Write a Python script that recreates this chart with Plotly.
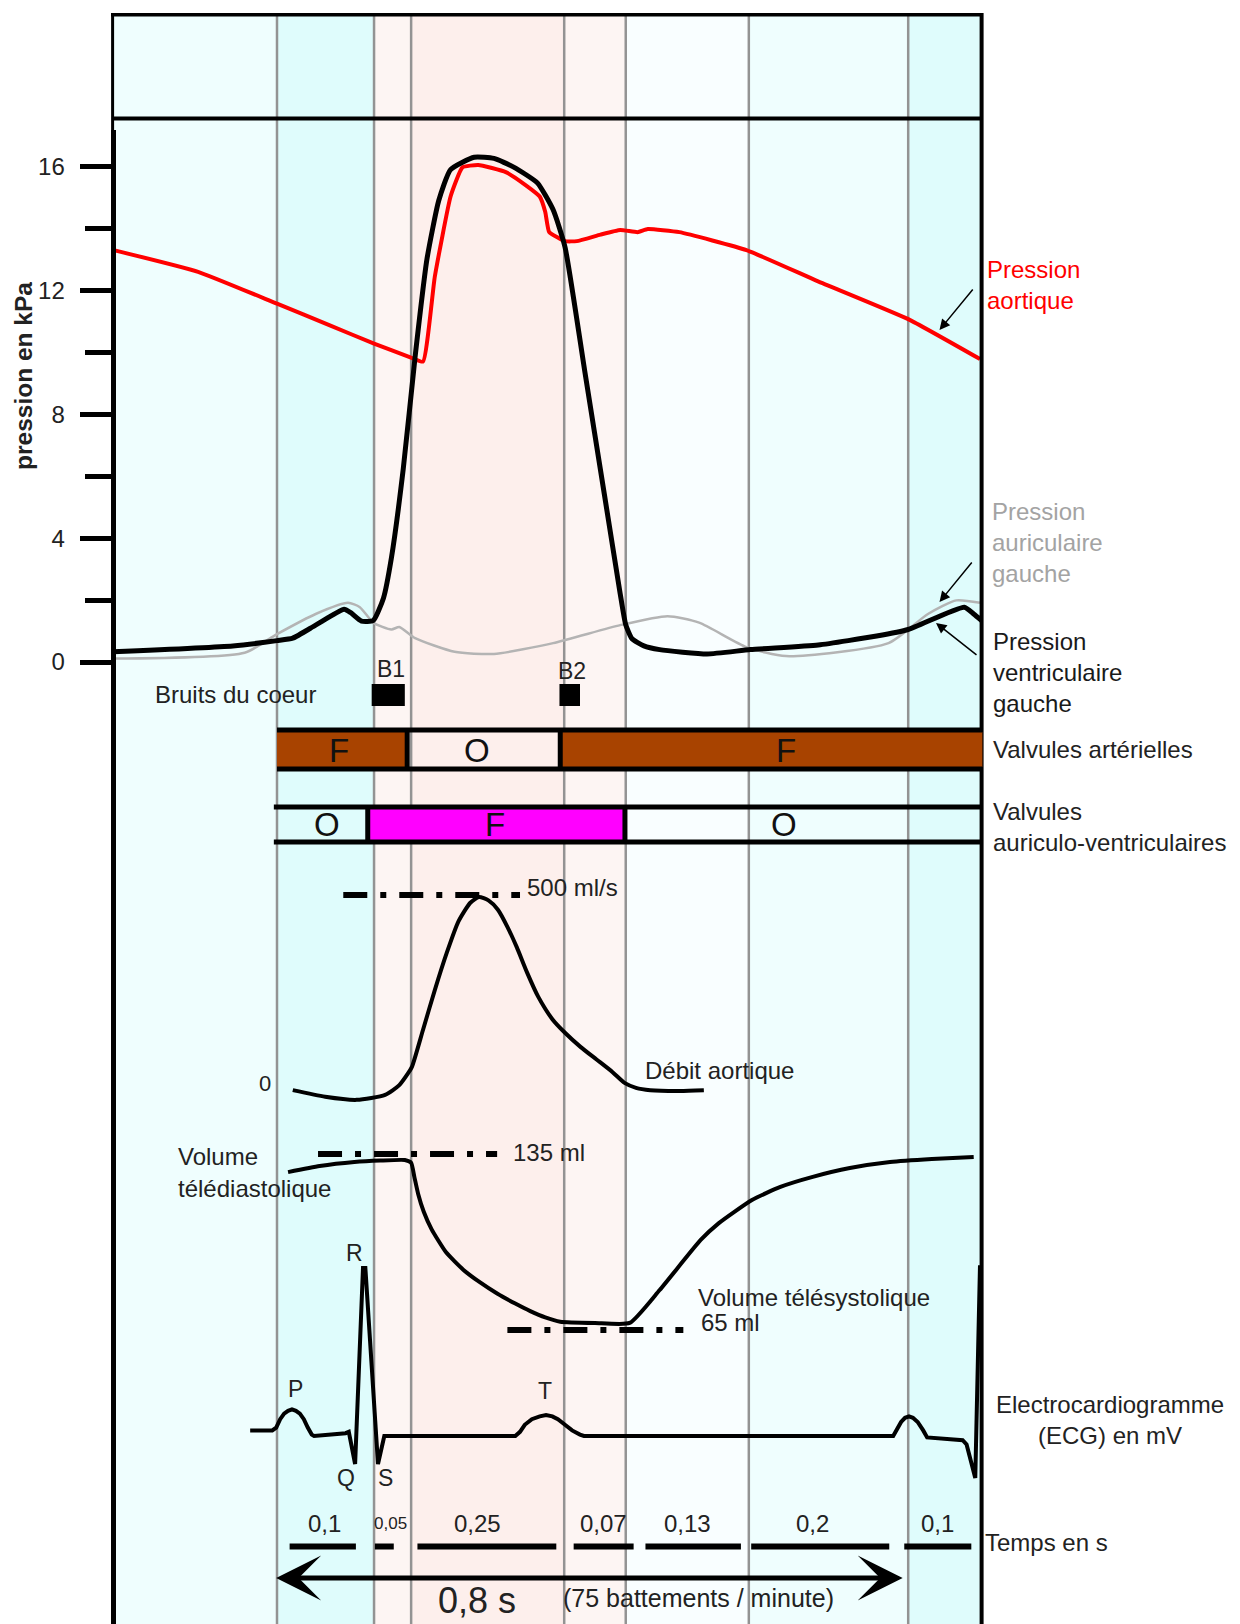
import plotly.graph_objects as go

W, H = 1240, 1624

# ---------------- data (time in s) ----------------
phase_edges = [-0.209, 0.0, 0.123, 0.170, 0.364, 0.442, 0.598, 0.800, 0.894]
phase_colors = ['#effefe', '#dffcfc', '#fdf5f3', '#fdefec', '#fdf5f3', '#f9feff', '#effefe', '#dffcfc']

# pressures (kPa)
t_aortic = [-0.207, -0.100, 0.000, 0.067, 0.123, 0.169, 0.185, 0.200, 0.220, 0.235, 0.255, 0.290, 0.315,
            0.333, 0.340, 0.345, 0.365, 0.380, 0.410, 0.435, 0.457, 0.470, 0.510, 0.595, 0.685, 0.800, 0.891]
p_aortic = [13.30, 12.60, 11.57, 10.87, 10.28, 9.84, 9.70, 12.44, 15.03, 15.97, 16.05, 15.82, 15.40,
            15.03, 14.53, 13.88, 13.59, 13.59, 13.80, 13.95, 13.88, 13.98, 13.88, 13.30, 12.30, 11.07, 9.78]

t_lv = [-0.208, -0.056, 0.000, 0.020, 0.049, 0.085, 0.093, 0.107, 0.122, 0.135, 0.145, 0.160, 0.175, 0.190,
        0.205, 0.220, 0.250, 0.275, 0.300, 0.330, 0.350, 0.365, 0.390, 0.415, 0.435, 0.442, 0.450, 0.465,
        0.485, 0.545, 0.600, 0.686, 0.760, 0.800, 0.871, 0.883, 0.893]
p_lv = [0.33, 0.52, 0.69, 0.77, 1.19, 1.70, 1.60, 1.32, 1.34, 2.07, 3.36, 6.23, 9.85, 13.00,
        14.90, 15.90, 16.30, 16.26, 15.98, 15.47, 14.60, 13.40, 9.40, 5.40, 2.20, 1.20, 0.75, 0.52,
        0.40, 0.26, 0.40, 0.55, 0.84, 1.05, 1.77, 1.55, 1.34]

t_la = [-0.208, -0.041, 0.000, 0.049, 0.090, 0.105, 0.122, 0.145, 0.155, 0.175, 0.225, 0.275, 0.350,
        0.435, 0.495, 0.535, 0.595, 0.645, 0.775, 0.825, 0.861, 0.891]
p_la = [0.11, 0.30, 0.90, 1.55, 1.91, 1.77, 1.27, 1.05, 1.13, 0.77, 0.33, 0.26, 0.61,
        1.19, 1.48, 1.27, 0.48, 0.19, 0.61, 1.55, 1.99, 1.91]

pressure_major = [0, 4, 8, 12, 16]
pressure_minor = [2, 6, 10, 14]

# heart sounds
hs_names = ['B1', 'B2']
hs_start = [0.120, 0.358]
hs_end = [0.162, 0.384]

# valves
art_edges = [0.0, 0.165, 0.359, 0.894]
art_state = ['F', 'O', 'F']
art_label_t = [0.078, 0.254, 0.645]
av_edges = [-0.004, 0.115, 0.441, 0.894]
av_state = ['O', 'F', 'O']
av_label_t = [0.063, 0.276, 0.643]

# aortic flow (ml/s)
t_flow = [0.020, 0.061, 0.101, 0.137, 0.155, 0.166, 0.171, 0.185, 0.200, 0.215, 0.230, 0.245, 0.256,
          0.268, 0.280, 0.292, 0.304, 0.317, 0.331, 0.349, 0.365, 0.385, 0.405, 0.425, 0.441, 0.455,
          0.473, 0.511, 0.541]
q_flow = [-3, -20, -28, -15, 10, 40, 57, 152, 255, 350, 432, 480, 495,
          486, 462, 418, 365, 300, 238, 180, 145, 108, 76, 44, 15, 3,
          -3, -5, -3]
flow_max = 500
flow_max_t = [0.084, 0.308]

# ventricular volume (ml)
t_vol = [0.014, 0.054, 0.098, 0.131, 0.162, 0.170, 0.174, 0.179, 0.186, 0.196, 0.214, 0.236, 0.257, 0.279,
         0.302, 0.321, 0.340, 0.359, 0.403, 0.447, 0.485, 0.537, 0.560, 0.602, 0.638, 0.679, 0.726, 0.777,
         0.830, 0.883]
v_vol = [127.8, 130.2, 131.8, 132.4, 132.6, 131.5, 126.0, 119.0, 112.0, 105.0, 96.0, 89.0, 84.0, 79.5,
         75.5, 72.5, 70.0, 68.3, 67.8, 67.8, 80.9, 100.8, 107.5, 116.7, 121.9, 125.9, 129.4, 131.8,
         133.0, 133.8]
edv = 135
edv_t = [0.052, 0.279]
esv = 65
esv_t = [0.292, 0.515]

# ECG (mV)
t_ecg = [-0.034, -0.006, -0.001, 0.004, 0.009, 0.014, 0.019, 0.024, 0.029, 0.034, 0.039, 0.044, 0.047,
         0.067, 0.087, 0.091, 0.099, 0.109, 0.112, 0.128, 0.136, 0.302, 0.308, 0.314, 0.323, 0.333,
         0.341, 0.349, 0.356, 0.365, 0.374, 0.384, 0.389, 0.781, 0.786, 0.791, 0.796, 0.801, 0.806,
         0.812, 0.819, 0.824, 0.869, 0.874, 0.885, 0.891]
e_ecg = [0.04, 0.04, 0.06, 0.12, 0.16, 0.18, 0.19, 0.18, 0.16, 0.12, 0.06, 0.01, 0.0,
         0.01, 0.02, 0.03, -0.20, 1.20, 1.20, -0.20, 0.0, 0.0, 0.03, 0.08, 0.12, 0.14,
         0.15, 0.14, 0.12, 0.08, 0.04, 0.01, 0.0, 0.0, 0.05, 0.10, 0.13, 0.14, 0.13,
         0.10, 0.04, -0.01, -0.03, -0.06, -0.30, 1.22]
ecg_waves = ['P', 'Q', 'R', 'S', 'T']
ecg_wave_t = [0.023, 0.087, 0.098, 0.137, 0.340]
ecg_wave_py = [1389, 1478, 1253, 1478, 1391]

# durations
seg_labels = ['0,1', '0,05', '0,25', '0,07', '0,13', '0,2', '0,1']
seg_start = [0.016, 0.124, 0.178, 0.376, 0.467, 0.601, 0.795]
seg_end = [0.100, 0.148, 0.354, 0.452, 0.588, 0.776, 0.880]
seg_label_t = [0.060, 0.144, 0.254, 0.414, 0.520, 0.679, 0.837]
cycle_t = [-0.003, 0.793]

# ---------------- helpers for layout positions ----------------
def PX(x):
    return x / W

def PY(y):
    return 1 - y / H

FONT = 'Liberation Sans, Arial, sans-serif'
TXT = '#222222'
DOM_TOP = PY(129.5)

fig = go.Figure()

# ---------------- traces ----------------
fig.add_trace(go.Scatter(x=t_la, y=p_la, mode='lines', yaxis='y',
                         line=dict(color='#b4b4b4', width=2.5, shape='spline', smoothing=0.6)))
fig.add_trace(go.Scatter(x=t_aortic, y=p_aortic, mode='lines', yaxis='y',
                         line=dict(color='#ff0000', width=4, shape='spline', smoothing=0.4)))
fig.add_trace(go.Scatter(x=t_lv, y=p_lv, mode='lines', yaxis='y',
                         line=dict(color='black', width=5, shape='spline', smoothing=0.5)))

fig.add_trace(go.Scatter(x=flow_max_t, y=[flow_max, flow_max], mode='lines', yaxis='y2',
                         line=dict(color='black', width=6, dash='24px,13px,6px,13px')))
fig.add_trace(go.Scatter(x=t_flow, y=q_flow, mode='lines', yaxis='y2',
                         line=dict(color='black', width=4, shape='spline', smoothing=0.6)))

fig.add_trace(go.Scatter(x=edv_t, y=[edv, edv], mode='lines', yaxis='y3',
                         line=dict(color='black', width=6, dash='24px,13px,6px,13px')))
fig.add_trace(go.Scatter(x=esv_t, y=[esv, esv], mode='lines', yaxis='y3',
                         line=dict(color='black', width=6, dash='24px,13px,6px,13px')))
fig.add_trace(go.Scatter(x=t_vol, y=v_vol, mode='lines', yaxis='y3',
                         line=dict(color='black', width=4, shape='spline', smoothing=0.5)))

fig.add_trace(go.Scatter(x=t_ecg, y=e_ecg, mode='lines', yaxis='y4',
                         line=dict(color='black', width=4)))

# ---------------- shapes ----------------
shapes = []
for i, c in enumerate(phase_colors):
    shapes.append(dict(type='rect', xref='x', yref='paper', x0=phase_edges[i], x1=phase_edges[i + 1],
                       y0=0, y1=PY(14.7), fillcolor=c, line=dict(width=0), layer='below'))
for e in phase_edges[1:-1]:
    shapes.append(dict(type='line', xref='x', yref='paper', x0=e, x1=e, y0=0, y1=PY(14.7),
                       line=dict(color='#939393', width=2.5), layer='below'))

# frame
shapes += [
    dict(type='line', xref='paper', yref='paper', x0=PX(111), x1=PX(983), y0=PY(14.7), y1=PY(14.7),
         line=dict(color='black', width=3.5)),
    dict(type='line', xref='paper', yref='paper', x0=PX(112.6), x1=PX(112.6), y0=PY(14.7), y1=PY(131),
         line=dict(color='black', width=3)),
    dict(type='line', xref='paper', yref='paper', x0=PX(981.6), x1=PX(981.6), y0=PY(13), y1=0,
         line=dict(color='black', width=4)),
    dict(type='line', xref='paper', yref='paper', x0=PX(112.6), x1=PX(981.6), y0=PY(118.5), y1=PY(118.5),
         line=dict(color='black', width=4)),
]

# heart sounds
for s, e in zip(hs_start, hs_end):
    shapes.append(dict(type='rect', xref='x', yref='paper', x0=s, x1=e, y0=PY(706), y1=PY(684),
                       fillcolor='black', line=dict(width=0)))

# arterial valves
for i, st in enumerate(art_state):
    if st == 'F':
        shapes.append(dict(type='rect', xref='x', yref='paper', x0=art_edges[i], x1=art_edges[i + 1],
                           y0=PY(767), y1=PY(732), fillcolor='#a84300', line=dict(width=0)))
for yy in (730, 769):
    shapes.append(dict(type='line', xref='x', yref='paper', x0=art_edges[0], x1=art_edges[-1],
                       y0=PY(yy), y1=PY(yy), line=dict(color='black', width=5)))
for e in art_edges[1:-1]:
    shapes.append(dict(type='line', xref='x', yref='paper', x0=e, x1=e, y0=PY(730), y1=PY(769),
                       line=dict(color='black', width=5)))

# atrio-ventricular valves
for i, st in enumerate(av_state):
    if st == 'F':
        shapes.append(dict(type='rect', xref='x', yref='paper', x0=av_edges[i], x1=av_edges[i + 1],
                           y0=PY(841), y1=PY(808), fillcolor='#ff00ff', line=dict(width=0)))
for yy in (807, 842):
    shapes.append(dict(type='line', xref='x', yref='paper', x0=av_edges[0], x1=av_edges[-1],
                       y0=PY(yy), y1=PY(yy), line=dict(color='black', width=5)))
for e in av_edges[1:-1]:
    shapes.append(dict(type='line', xref='x', yref='paper', x0=e, x1=e, y0=PY(807), y1=PY(842),
                       line=dict(color='black', width=5)))

# duration segments
for s, e in zip(seg_start, seg_end):
    shapes.append(dict(type='line', xref='x', yref='paper', x0=s, x1=e, y0=PY(1546.5), y1=PY(1546.5),
                       line=dict(color='black', width=6)))

# ---------------- annotations ----------------
ann = []

def txt(text, x, y, size=24, color=TXT, xanchor='left', align='left', xref='paper', **kw):
    ann.append(dict(text=text, x=x if xref == 'x' else PX(x), y=PY(y), xref=xref, yref='paper',
                    xanchor=xanchor, yanchor='middle', align=align, showarrow=False,
                    font=dict(family=FONT, size=size, color=color), **kw))

txt('Pression<br>aortique', 985, 285, color='#ff0000')
txt('Pression<br>auriculaire<br>gauche', 990, 542, color='#a3a3a3')
txt('Pression<br>ventriculaire<br>gauche', 991, 673, color='#1a1a1a')
txt('Valvules artérielles', 991, 749)
txt('Valvules<br>auriculo-ventriculaires', 991, 827)
txt('Electrocardiogramme<br>(ECG) en mV', 1110, 1420, xanchor='center', align='center')
txt('Temps en s', 983, 1542)
txt('Bruits du coeur', 235, 694, xanchor='center')
for n, s, e, yy in zip(hs_names, hs_start, hs_end, [669, 671]):
    txt(n, (s + e) / 2 + 0.003, yy, size=23, xanchor='center', xref='x')
txt('0', 265, 1083, size=22, xanchor='center')
txt('500 ml/s', 525, 887)
txt('Débit aortique', 643, 1070)
txt('Volume', 176, 1156)
txt('télédiastolique', 176, 1188)
txt('135 ml', 511, 1152)
txt('Volume télésystolique', 696, 1297)
txt('65 ml', 699, 1322)

for lab, t in zip(art_state, art_label_t):
    txt(lab, t, 750, size=33, color='#111111', xanchor='center', xref='x')
for lab, t in zip(av_state, av_label_t):
    txt(lab, t, 825, size=33, color='#111111', xanchor='center', xref='x')

for lab, t, yy in zip(ecg_waves, ecg_wave_t, ecg_wave_py):
    txt(lab, t, yy, size=23, xanchor='center', xref='x')

for lab, t in zip(seg_labels, seg_label_t):
    txt(lab, t, 1523, size=17 if lab == '0,05' else 24, xanchor='center', xref='x')

txt('0,8 s', 477, 1600, size=36, xanchor='center')
txt('(75 battements / minute)', 698, 1598, size=25, xanchor='center')

ann.append(dict(text='<b>pression en kPa</b>', x=PX(23), y=PY(376), xref='paper', yref='paper',
                textangle=-90, showarrow=False, xanchor='center', yanchor='middle',
                font=dict(family=FONT, size=24.5, color=TXT)))

# cycle double arrow
ann.append(dict(text='', x=cycle_t[1], y=PY(1578), xref='x', yref='paper',
                ax=cycle_t[0], ay=0, axref='x', ayref='pixel', showarrow=True,
                arrowside='end+start', arrowhead=3, arrowsize=1.5, arrowwidth=5, arrowcolor='black'))

# pointer arrows to curves
for tip, tail in [((939.5, 330), (974, 288)), ((939.5, 602), (973, 561)), ((936, 623), (978, 656))]:
    ann.append(dict(text='', x=PX(tip[0]), y=PY(tip[1]), xref='paper', yref='paper',
                    ax=tail[0] - tip[0], ay=tail[1] - tip[1], showarrow=True,
                    arrowhead=2, arrowsize=1.4, arrowwidth=1.5, arrowcolor='black'))

# ---------------- layout ----------------
def yrange(px_ref, v_ref, px_per_unit):
    lo = v_ref - (H - px_ref) / px_per_unit
    hi = lo + (H - 129.5) / px_per_unit
    return [lo, hi]

fig.update_layout(
    width=W, height=H, margin=dict(l=0, r=0, t=0, b=0),
    paper_bgcolor='white', plot_bgcolor='rgba(0,0,0,0)', showlegend=False,
    xaxis=dict(domain=[0, 1], range=[-277 / 789, (W - 277) / 789], visible=False, fixedrange=True),
    yaxis=dict(domain=[0, DOM_TOP], range=yrange(662, 0, 30.97), anchor='free', position=PX(112.6),
               showline=True, linewidth=5, linecolor='black', showgrid=False, zeroline=False,
               ticks='outside', ticklen=31, tickwidth=5, tickcolor='black',
               tickmode='array', tickvals=pressure_major, ticktext=[str(v) for v in pressure_major],
               ticklabelstandoff=10,
               tickfont=dict(family=FONT, size=24, color=TXT),
               minor=dict(ticks='outside', tickmode='array', tickvals=pressure_minor, ticklen=26,
                          tickwidth=5, tickcolor='black'),
               fixedrange=True),
    yaxis2=dict(overlaying='y', anchor='x', range=yrange(1089, 0, 0.388), visible=False),
    yaxis3=dict(overlaying='y', anchor='x', range=yrange(1154, 135, 2.514), visible=False),
    yaxis4=dict(overlaying='y', anchor='x', range=yrange(1436, 0, 140.0), visible=False),
    shapes=shapes,
    annotations=ann,
)

fig.write_html('out.html', config={'displayModeBar': False, 'staticPlot': True},
               post_script="document.body.style.margin='0';document.body.style.padding='0';"
                           "document.body.style.overflow='hidden';")
